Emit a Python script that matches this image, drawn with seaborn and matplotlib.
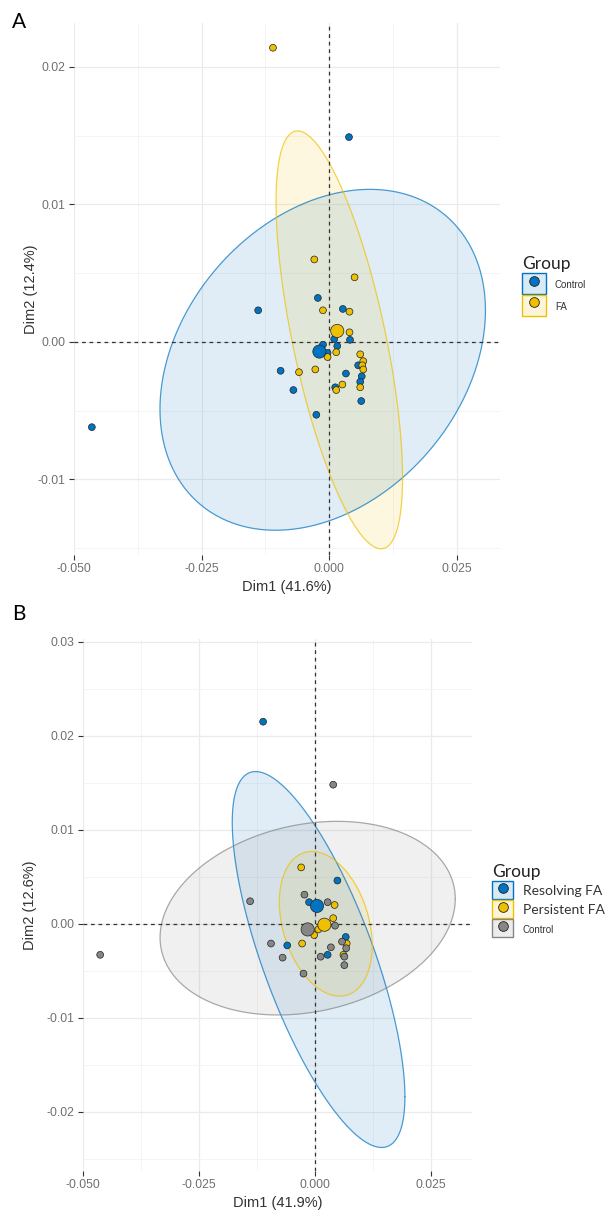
import numpy as np
import pandas as pd
import matplotlib
matplotlib.use("Agg")
import matplotlib.pyplot as plt
import seaborn as sns
from matplotlib.patches import Patch
from matplotlib.lines import Line2D
from matplotlib.legend_handler import HandlerTuple

sns.set_theme(style="white")
plt.rcParams['font.family'] = ['Liberation Sans', 'DejaVu Sans']

# ---------------- Panel A: Control vs FA ----------------
a_control_x = [-0.0465, 0.0039, -0.0139, -0.0022, 0.0027, 0.0041, 0.0010, 0.0016,
               -0.0012, -0.0003, 0.0057, 0.0064, 0.0061, 0.0033, -0.0095, -0.0070,
               0.0012, 0.0063, -0.0025]
a_control_y = [-0.0062, 0.0149, 0.0023, 0.0032, 0.0024, 0.00015, 0.0002, -0.0003,
               -0.0002, -0.0008, -0.0017, -0.0025, -0.0029, -0.0023, -0.0021, -0.0035,
               -0.0033, -0.0043, -0.0053]
a_fa_x = [-0.0110, -0.0029, 0.0050, -0.0012, 0.0040, 0.0040, 0.0014, -0.0003,
          0.0061, 0.0067, 0.0065, 0.0067, -0.0059, -0.0027, 0.0026, 0.0014, 0.0061]
a_fa_y = [0.0214, 0.0060, 0.0047, 0.0023, 0.0022, 0.0007, -0.00075, -0.0011,
          -0.0009, -0.0014, -0.0017, -0.0020, -0.0022, -0.0020, -0.0031, -0.0035, -0.0033]
a_groups = ["Control", "FA"]
a_mean_x = [-0.0019, 0.0016]
a_mean_y = [-0.0007, 0.0008]
# ellipse: centre x, centre y, half-width x, half-height y, correlation
a_ell_cx = [-0.00125, 0.0020]
a_ell_cy = [-0.0013, 0.00015]
a_ell_hx = [0.0319, 0.0124]
a_ell_hy = [0.0124, 0.0152]
a_ell_r = [0.29, -0.66]
a_xticks = [-0.050, -0.025, 0.000, 0.025]
a_xticklabels = ["-0.050", "-0.025", "0.000", "0.025"]
a_yticks = [-0.01, 0.00, 0.01, 0.02]
a_yticklabels = ["-0.01", "0.00", "0.01", "0.02"]

# ---------------- Panel B: Resolving / Persistent FA / Control ----------------
b_res_x = [-0.0112, 0.0048, -0.0013, -0.0060, 0.0066, 0.0027]
b_res_y = [0.0215, 0.0046, 0.0023, -0.0023, -0.0014, -0.0033]
b_per_x = [-0.0030, 0.0042, 0.0039, 0.0007, -0.0002, -0.0028, 0.0068, 0.0061]
b_per_y = [0.0060, 0.0020, 0.0006, -0.0006, -0.0012, -0.0021, -0.0021, -0.0033]
b_con_x = [-0.0463, 0.0039, -0.0140, -0.0023, 0.0027, 0.0043, -0.0095, -0.0070,
           -0.0025, 0.0058, 0.0067, 0.0034, 0.0012, 0.0063, 0.0063]
b_con_y = [-0.0033, 0.0148, 0.0024, 0.0031, 0.0023, -0.0002, -0.0021, -0.0036,
           -0.0053, -0.0019, -0.0026, -0.0025, -0.0035, -0.0035, -0.0044]
b_groups = ["Resolving FA", "Persistent FA", "Control"]
b_mean_x = [0.0004, 0.0020, -0.0016]
b_mean_y = [0.0019, -0.0001, -0.0006]
b_ell_cx = [0.00075, 0.0023, -0.0016]
b_ell_cy = [-0.0038, 0.0000, 0.0006]
b_ell_hx = [0.0186, 0.0100, 0.0318]
b_ell_hy = [0.0200, 0.0077, 0.0103]
b_ell_r = [-0.73, -0.30, 0.20]
b_xticks = [-0.050, -0.025, 0.000, 0.025]
b_xticklabels = ["-0.050", "-0.025", "0.000", "0.025"]
b_yticks = [-0.02, -0.01, 0.00, 0.01, 0.02, 0.03]
b_yticklabels = ["-0.02", "-0.01", "0.00", "0.01", "0.02", "0.03"]

BLUE, YELLOW, GREY = "#0073C2", "#EFC000", "#868686"

df_a = pd.DataFrame({
    "Dim1": a_control_x + a_fa_x,
    "Dim2": a_control_y + a_fa_y,
    "Group": ["Control"] * len(a_control_x) + ["FA"] * len(a_fa_x),
})
df_a_mean = pd.DataFrame({"Dim1": a_mean_x, "Dim2": a_mean_y, "Group": a_groups})
df_b = pd.DataFrame({
    "Dim1": b_res_x + b_per_x + b_con_x,
    "Dim2": b_res_y + b_per_y + b_con_y,
    "Group": ["Resolving FA"] * len(b_res_x) + ["Persistent FA"] * len(b_per_x)
             + ["Control"] * len(b_con_x),
})
df_b_mean = pd.DataFrame({"Dim1": b_mean_x, "Dim2": b_mean_y, "Group": b_groups})


def ellipse_xy(cx, cy, hx, hy, r, n=300):
    t = np.linspace(0, 2 * np.pi, n)
    x = cx + hx * np.cos(t)
    y = cy + hy * (r * np.cos(t) + np.sqrt(1 - r * r) * np.sin(t))
    return x, y


def style_axes(ax, xlim, ylim, xticks, xlabels, yticks, ylabels, xlab, ylab, ylabelpad):
    for s in ax.spines.values():
        s.set_visible(False)
    ax.set_xticks(xticks)
    ax.set_xticklabels(xlabels)
    ax.set_yticks(yticks)
    ax.set_yticklabels(ylabels)
    dx = xticks[1] - xticks[0]
    dy = yticks[1] - yticks[0]
    xminor = [t + dx / 2 for t in xticks]
    yminor = [yticks[0] - dy / 2] + [t + dy / 2 for t in yticks]
    ax.set_xticks(xminor, minor=True)
    ax.set_yticks(yminor, minor=True)
    ax.grid(True, which="major", color="#EBEBEB", lw=0.9, zorder=0)
    ax.grid(True, which="minor", color="#F2F2F2", lw=0.6, zorder=0)
    ax.set_axisbelow(True)
    ax.tick_params(which="major", length=3.5, width=0.8, color="#333333",
                   labelsize=8.8, labelcolor="#707070", pad=2.5,
                   bottom=True, left=True)
    ax.tick_params(which="minor", length=0)
    ax.set_xlabel(xlab, fontsize=10.5, color="#333333", labelpad=3)
    ax.set_ylabel(ylab, fontsize=10.5, color="#333333", labelpad=ylabelpad)
    ax.axvline(0, color="#333333", lw=0.9, ls=(0, (3, 3)), zorder=3)
    ax.axhline(0, color="#333333", lw=0.9, ls=(0, (3, 3)), zorder=3)
    # limits last, so the tick setters cannot widen the view
    ax.set_xlim(*xlim)
    ax.set_ylim(*ylim)


def draw_panel(ax, df, dfm, groups, colors, cxs, cys, hxs, hys, rs, fill_alpha):
    for g, c, cx, cy, hx, hy, r, fa in zip(groups, colors, cxs, cys, hxs, hys, rs, fill_alpha):
        ex, ey = ellipse_xy(cx, cy, hx, hy, r)
        ax.fill(ex, ey, facecolor=c, alpha=fa, edgecolor="none", zorder=1)
        ax.plot(ex, ey, color=c, lw=0.9, alpha=0.7, zorder=2)
    pal = dict(zip(groups, colors))
    sns.scatterplot(data=df, x="Dim1", y="Dim2", hue="Group", palette=pal,
                    s=24, edgecolor="#222222", linewidth=0.5, legend=False,
                    ax=ax, zorder=4)
    sns.scatterplot(data=dfm, x="Dim1", y="Dim2", hue="Group", palette=pal,
                    s=90, edgecolor="#222222", linewidth=0.5, legend=False,
                    ax=ax, zorder=5)


def add_legend(fig, groups, colors, anchor, sizes, families, title_size,
               hlen, hheight, spacing):
    handles = []
    for c in colors:
        box = Patch(facecolor=matplotlib.colors.to_rgba(c, 0.15),
                    edgecolor=c, linewidth=1.0)
        dot = Line2D([], [], marker="o", ls="none", markersize=7,
                     markerfacecolor=c, markeredgecolor="#222222", markeredgewidth=0.6)
        handles.append((box, dot))
    leg = fig.legend(handles, groups, handler_map={tuple: HandlerTuple(ndivide=1)},
                     loc="upper left", bbox_to_anchor=anchor, frameon=False,
                     handlelength=hlen, handleheight=hheight, handletextpad=0.6,
                     labelspacing=spacing, borderaxespad=0, borderpad=0,
                     title="Group", alignment="left")
    leg.get_title().set_fontsize(title_size)
    leg.get_title().set_family(["Lato", "DejaVu Sans"])
    leg.get_title().set_color("#222222")
    for t, s, f in zip(leg.get_texts(), sizes, families):
        t.set_fontsize(s)
        t.set_family([f, "DejaVu Sans"])
        t.set_color("#333333")
    return leg


fig = plt.figure(figsize=(6.13, 12.12), dpi=100)

# Panel A
ax_a = fig.add_axes([74 / 613, 1 - 555 / 1212, 426 / 613, 532 / 1212])
draw_panel(ax_a, df_a, df_a_mean, a_groups, [BLUE, YELLOW],
           a_ell_cx, a_ell_cy, a_ell_hx, a_ell_hy, a_ell_r, [0.12, 0.12])
style_axes(ax_a, (-0.050, 0.0335), (-0.0155, 0.0232),
           a_xticks, a_xticklabels, a_yticks, a_yticklabels,
           "Dim1 (41.6%)", "Dim2 (12.4%)", 0)

# Panel B
ax_b = fig.add_axes([83 / 613, 1 - 1171 / 1212, 389 / 613, 532 / 1212])
draw_panel(ax_b, df_b, df_b_mean, b_groups, [BLUE, YELLOW, GREY],
           b_ell_cx, b_ell_cy, b_ell_hx, b_ell_hy, b_ell_r, [0.12, 0.12, 0.12])
style_axes(ax_b, (-0.050, 0.0338), (-0.0263, 0.0303),
           b_xticks, b_xticklabels, b_yticks, b_yticklabels,
           "Dim1 (41.9%)", "Dim2 (12.6%)", 7)

add_legend(fig, a_groups, [BLUE, YELLOW], (522 / 613, 1 - 256 / 1212),
           [7, 7], ["Liberation Sans", "Liberation Sans"], 12.5, 1.55, 1.75, 0.05)
add_legend(fig, b_groups, [BLUE, YELLOW, GREY], (492 / 613, 1 - 864 / 1212),
           [10, 10, 7], ["Lato", "Lato", "Liberation Sans"], 12.5, 1.4, 1.4, 0.08)

fig.text(12 / 613, 1 - 22 / 1212, "A", fontsize=15, family=["Lato", "DejaVu Sans"],
         va="center", ha="left", color="black")
fig.text(12 / 613, 1 - 614 / 1212, "B", fontsize=15, family=["Lato", "DejaVu Sans"],
         va="center", ha="left", color="black")

fig.savefig("out.png", dpi=100, facecolor="white")
